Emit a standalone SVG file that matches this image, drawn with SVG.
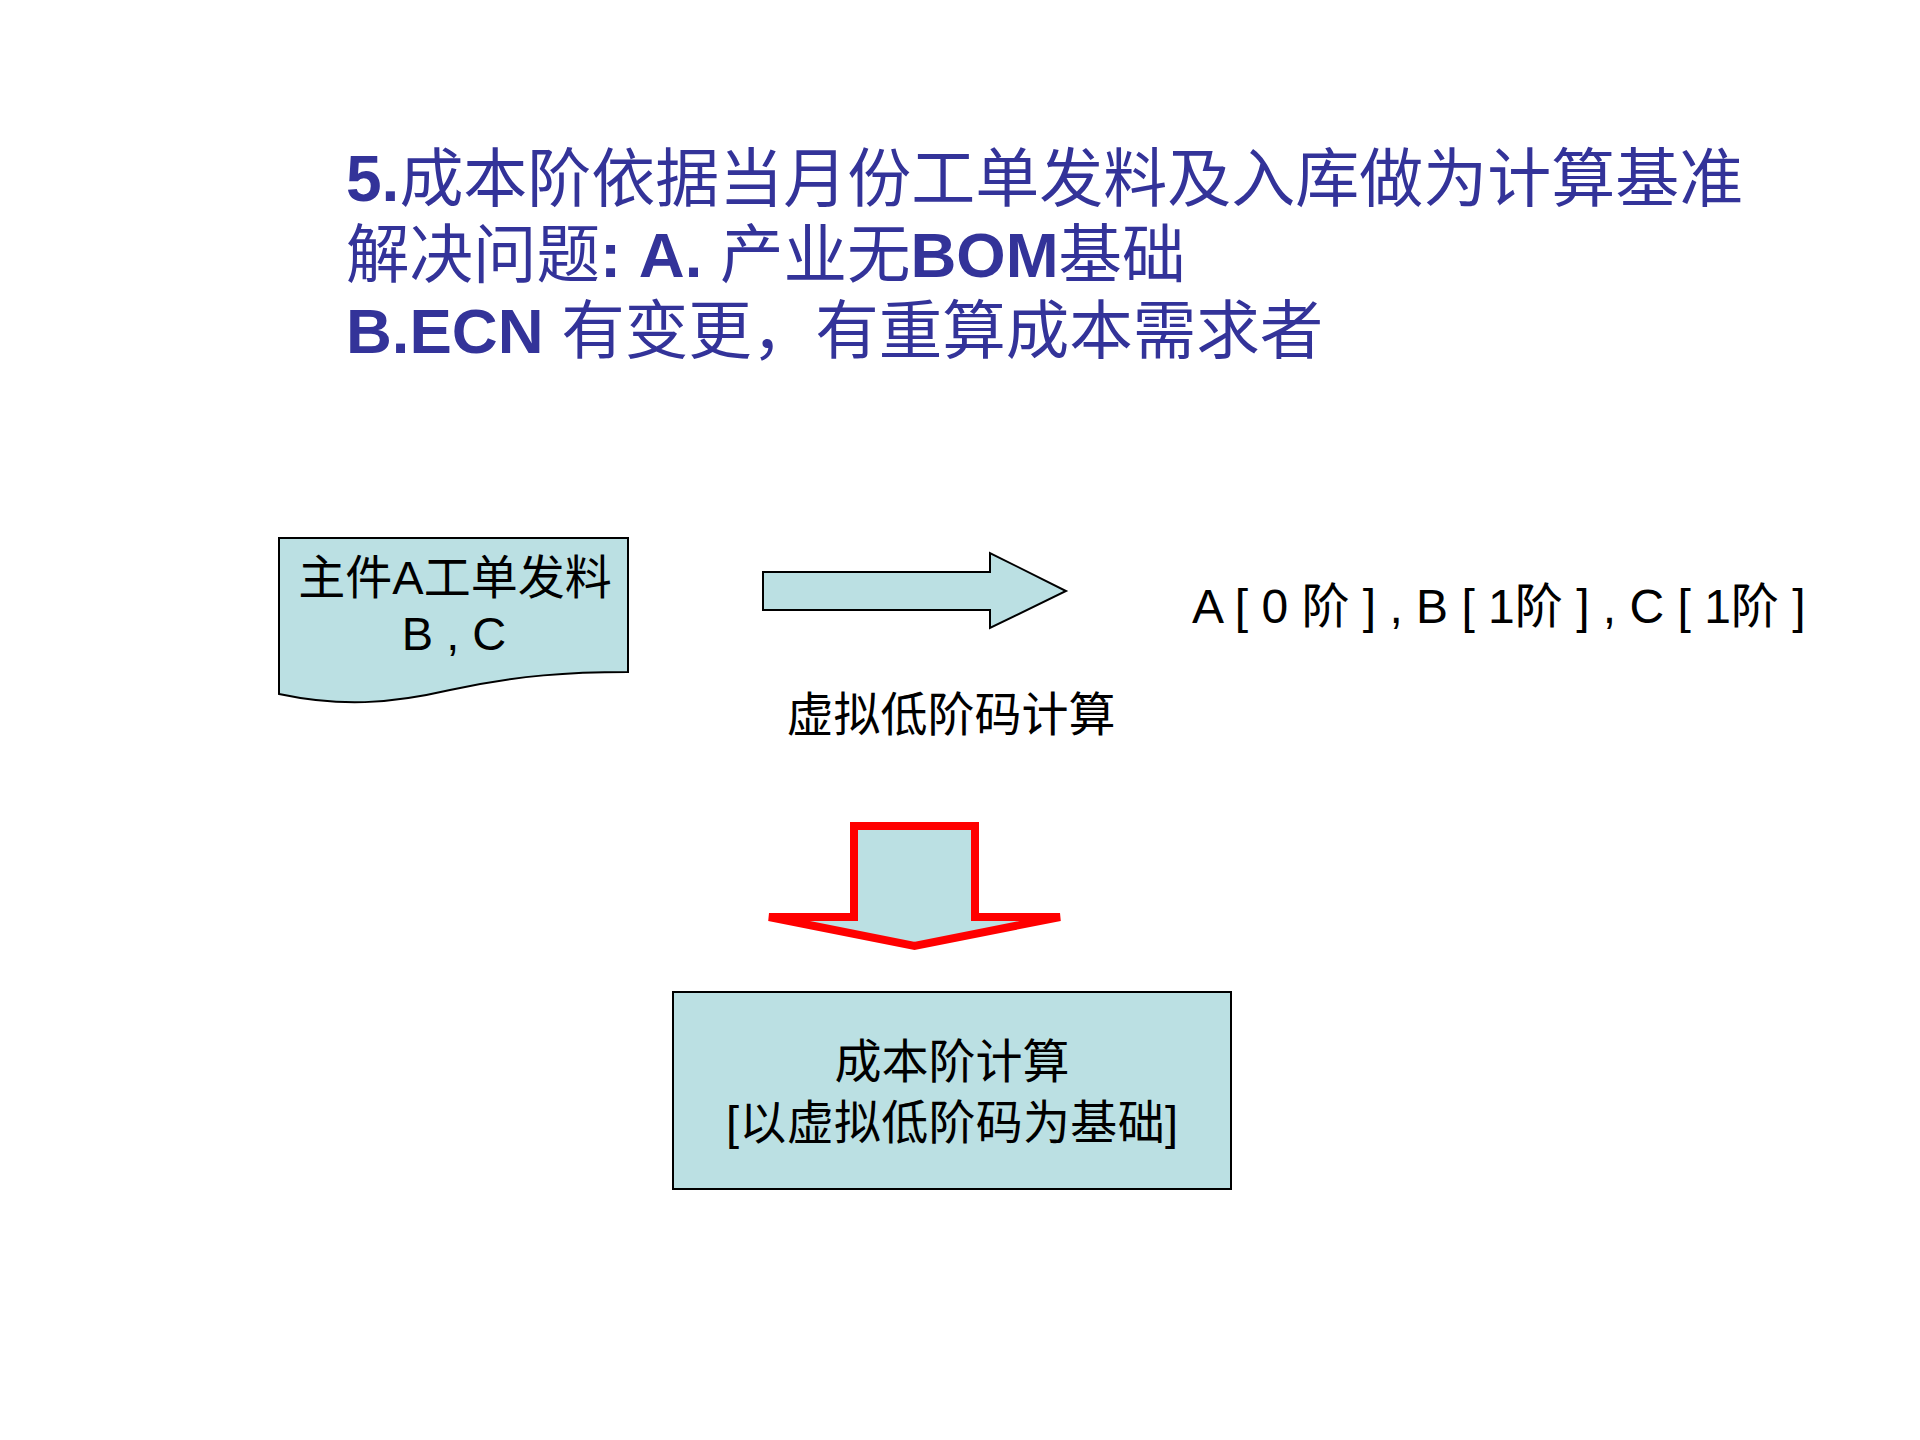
<svg xmlns="http://www.w3.org/2000/svg" width="1920" height="1440" viewBox="0 0 1920 1440">
  <style>
    .title { font-family: "Liberation Sans", "Noto Sans CJK SC", sans-serif; font-size: 63.5px; fill: #333399; }
    .b { font-weight: bold; }
    .t { font-family: "Liberation Sans", "Noto Sans CJK SC", sans-serif; font-size: 47px; fill: #000000; }
    .shape { fill: #BBE0E3; stroke: #000000; stroke-width: 2; }
  </style>
  <rect x="0" y="0" width="1920" height="1440" fill="#FFFFFF"/>

  <g id="title">
    <text class="title" x="346" y="201" style="font-size:64px"><tspan class="b">5.</tspan>成本阶依据当月份工单发料及入库做为计算基准</text>
    <text class="title" x="346" y="277">解决问题<tspan class="b">: A.</tspan> 产业无<tspan class="b">BOM</tspan>基础</text>
    <text class="title" x="346" y="353"><tspan class="b">B.ECN</tspan> 有变更，有重算成本需求者</text>
  </g>

  <g id="node-doc">
    <path class="shape" d="M279,538 H628 V672 C570,672 520,675 450,690 C390,704 340,707 279,694 Z"/>
    <text class="t" x="455" y="594" text-anchor="middle">主件A工单发料</text>
    <text class="t" x="454" y="650" text-anchor="middle">B , C</text>
  </g>

  <g id="node-result">
    <text class="t" x="1192" y="623" style="font-size:48px">A [ 0 阶 ] , B [ 1阶 ] , C [ 1阶 ]</text>
  </g>

  <g id="node-cost">
    <rect class="shape" x="673" y="992" width="558" height="197"/>
    <text class="t" x="952" y="1078" text-anchor="middle">成本阶计算</text>
    <text class="t" x="952" y="1139" text-anchor="middle" textLength="452" lengthAdjust="spacing">[以虚拟低阶码为基础]</text>
  </g>

  <g id="connectors">
    <path id="arrow-right" class="shape" d="M763,572 H990 V553 L1066,591 L990,628 V610 H763 Z"/>
    <text class="t" x="951" y="731" text-anchor="middle">虚拟低阶码计算</text>
    <path id="arrow-down" d="M854,826 H975 V917 H1060 L914.5,946 L769,917 H854 Z" fill="#BBE0E3" stroke="#FF0000" stroke-width="8"/>
  </g>
</svg>
